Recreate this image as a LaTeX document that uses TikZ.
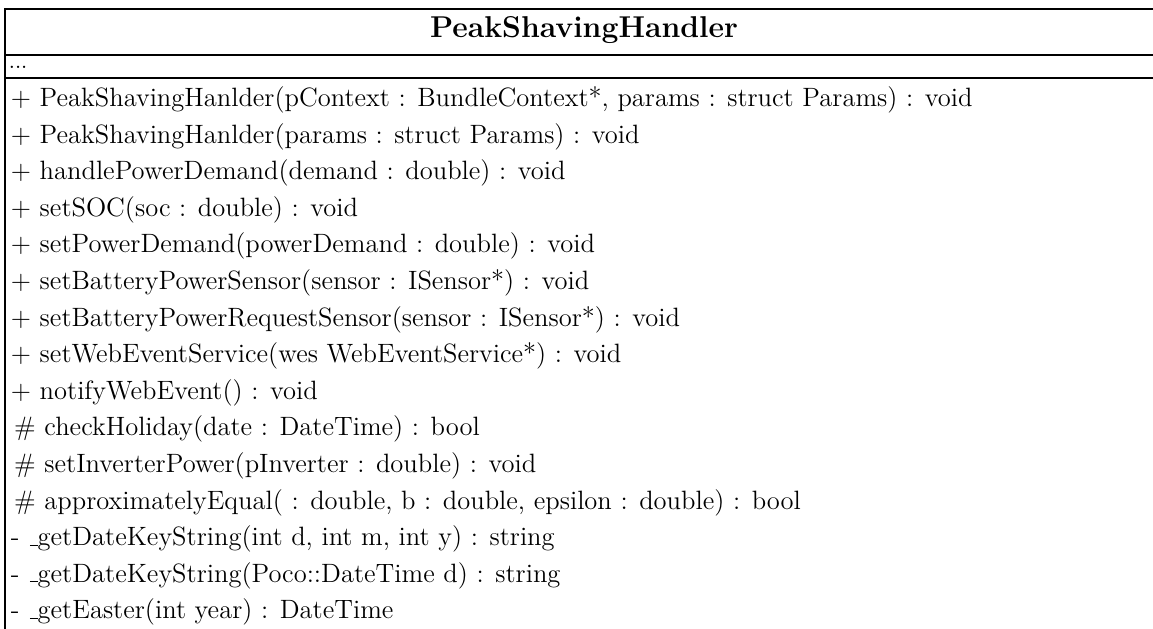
\documentclass[tikz,border=0pt]{standalone}
% low underscore rule in the classic OT1 style
\newcommand\lowbar{\leavevmode\kern.06em\vbox{\hrule width.3em}}
\begin{document}
\begin{tikzpicture}[x=0.4167pt, y=-0.4167pt,
  frame/.style={line width=0.5pt, draw=black},
  member/.style={anchor=base west, inner sep=0pt, font=\fontsize{11.05}{13}\selectfont},
  classname/.style={anchor=base, inner sep=0pt, font=\fontsize{12.55}{15}\selectfont\bfseries}]
\useasboundingbox (0,0) rectangle (1153,628);
\clip (0,0) rectangle (1153,628);

% class box and its compartments
\draw[frame] (5,9) rectangle (1170,700);
\draw[frame] (5,55) -- (1170,55);
\draw[frame] (5,78) -- (1170,78);

% name compartment
\node[classname] (title) at (584,37.7) {PeakShavingHandler};

% attribute compartment
\node[anchor=base west, inner sep=0pt, font=\fontsize{9}{11}\selectfont] (attrs) at (8.4,69) {...};

% operation compartment
\node[member] (op1)  at (10.4,106.5) {+ PeakShavingHanlder(pContext : BundleContext*, params : struct Params) : void};
\node[member] (op2)  at (10.4,143.1) {+ PeakShavingHanlder(params : struct Params) : void};
\node[member] (op3)  at (10.4,179.7) {+ handlePowerDemand(demand : double) : void};
\node[member] (op4)  at (10.4,216.3) {+ setSOC(soc : double) : void};
\node[member] (op5)  at (10.4,252.9) {+ setPowerDemand(powerDemand : double) : void};
\node[member] (op6)  at (10.4,289.5) {+ setBatteryPowerSensor(sensor : ISensor*) : void};
\node[member] (op7)  at (10.4,326.1) {+ setBatteryPowerRequestSensor(sensor : ISensor*) : void};
\node[member] (op8)  at (10.4,362.7) {+ setWebEventService(wes WebEventService*) : void};
\node[member] (op9)  at (10.4,399.3) {+ notifyWebEvent() : void};
\node[member] (op10) at (13.7,435.9) {\# checkHoliday(date : DateTime) : bool};
\node[member] (op11) at (13.7,472.5) {\# setInverterPower(pInverter : double) : void};
\node[member] (op12) at (13.7,509.1) {\# approximatelyEqual( : double, b : double, epsilon : double) : bool};
\node[member] (op13) at (10.4,545.7) {- \lowbar getDateKeyString(int d, int m, int y) : string};
\node[member] (op14) at (10.4,582.3) {- \lowbar getDateKeyString(Poco::DateTime d) : string};
\node[member] (op15) at (10.4,618.9) {- \lowbar getEaster(int year) : DateTime};
\end{tikzpicture}
\end{document}
